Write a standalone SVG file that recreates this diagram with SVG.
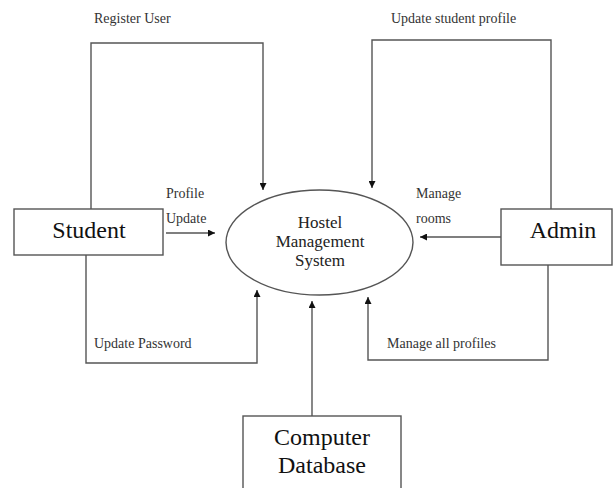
<svg xmlns="http://www.w3.org/2000/svg" width="613" height="488" viewBox="0 0 613 488">
<style>
.box{fill:#fff;stroke:#555;stroke-width:1.4}
.ln{fill:none;stroke:#555;stroke-width:1.4}
text{font-family:"Liberation Serif","Times New Roman",serif}
.big{font-size:24px;fill:#111;text-anchor:middle}
.mid{font-size:17px;fill:#222;text-anchor:middle}
.lbl{font-size:14px;fill:#333}
</style>
<defs>
<marker id="ah" viewBox="0 0 10 10" refX="10" refY="5" markerWidth="7" markerHeight="7" markerUnits="userSpaceOnUse" orient="auto">
<path d="M0,0 L10,5 L0,10 z" fill="#111"/>
</marker>
</defs>
<rect width="613" height="488" fill="#fff"/>
<g id="connectors">
<path class="ln" d="M91,209 V43 H263 V190" marker-end="url(#ah)"/>
<path class="ln" d="M166,233 H215" marker-end="url(#ah)"/>
<path class="ln" d="M86,255 V363 H257 V290" marker-end="url(#ah)"/>
<path class="ln" d="M551,209 V40 H372 V188" marker-end="url(#ah)"/>
<path class="ln" d="M501,237 H420" marker-end="url(#ah)"/>
<path class="ln" d="M548,265 V360 H368 V297" marker-end="url(#ah)"/>
<path class="ln" d="M312,416 V301" marker-end="url(#ah)"/>
<text class="lbl" x="94" y="23">Register User</text>
<text class="lbl" x="166" y="198">Profile</text>
<text class="lbl" x="166" y="223">Update</text>
<text class="lbl" x="94" y="348">Update Password</text>
<text class="lbl" x="391" y="23">Update student profile</text>
<text class="lbl" x="416" y="198">Manage</text>
<text class="lbl" x="416" y="223">rooms</text>
<text class="lbl" x="387" y="348">Manage all profiles</text>
</g>
<g id="student">
<rect class="box" x="14" y="209" width="149" height="46"/>
<text class="big" x="89" y="238">Student</text>
</g>
<g id="admin">
<rect class="box" x="501" y="209" width="111" height="56"/>
<text class="big" x="563" y="238">Admin</text>
</g>
<g id="system">
<ellipse class="box" cx="319.5" cy="242.5" rx="93.5" ry="52.5"/>
<text class="mid" x="320" y="228">Hostel</text>
<text class="mid" x="320" y="247">Management</text>
<text class="mid" x="320" y="266">System</text>
</g>
<g id="database">
<rect class="box" x="243" y="416" width="158" height="80"/>
<text class="big" x="322" y="445">Computer</text>
<text class="big" x="322" y="473">Database</text>
</g>
</svg>
